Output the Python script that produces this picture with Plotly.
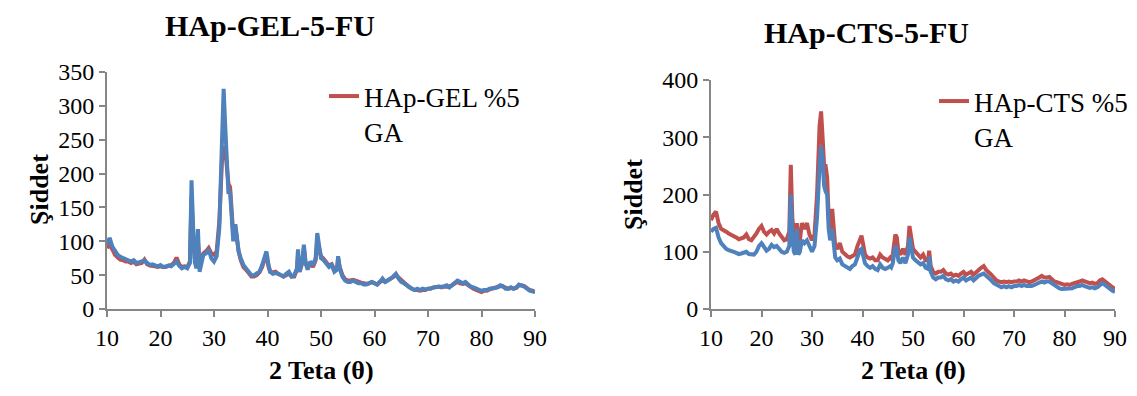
import plotly.graph_objects as go

# 2-theta grid (degrees)
X = [10, 10.5, 11, 11.5, 12, 12.5, 13, 13.5, 14, 14.5,
     15, 15.5, 16, 16.5, 17, 17.5, 18, 18.5, 19, 19.5,
     20, 20.5, 21, 21.5, 22, 22.5, 23, 23.5, 24, 24.5,
     25, 25.5, 25.8, 26.1, 26.4, 26.7, 27.0, 27.3, 27.6, 28,
     28.5, 29, 29.5, 30, 30.5, 31, 31.5, 31.8, 32.1, 32.4,
     32.7, 33.0, 33.3, 33.6, 34, 34.3, 34.6, 35, 35.5, 36,
     36.5, 37, 37.5, 38, 38.5, 39, 39.5, 39.8, 40.2, 40.5,
     41, 41.5, 42, 42.5, 43, 43.5, 44, 44.5, 45, 45.5,
     45.7, 46, 46.5, 46.8, 47.1, 47.5, 48, 48.5, 49, 49.3,
     49.6, 50, 50.5, 51, 51.5, 52, 52.5, 53, 53.2, 53.5,
     54, 54.5, 55, 55.5, 56, 56.5, 57, 57.5, 58, 58.5,
     59, 59.5, 60, 60.5, 61, 61.5, 62, 62.5, 63, 63.5,
     64, 64.5, 65, 65.5, 66, 66.5, 67, 67.5, 68, 68.5,
     69, 69.5, 70, 70.5, 71, 71.5, 72, 72.5, 73, 73.5,
     74, 74.5, 75, 75.5, 76, 76.5, 77, 77.5, 78, 78.5,
     79, 79.5, 80, 80.5, 81, 81.5, 82, 82.5, 83, 83.5,
     84, 84.5, 85, 85.5, 86, 86.5, 87, 87.5, 88, 88.5,
     89, 89.5, 90]

# Left chart: HAp-GEL %5 GA (red) and second pattern (blue)
gel_red = [90, 95, 88, 80, 76, 73, 72, 70, 70, 68,
           70, 66, 67, 68, 73, 66, 64, 64, 63, 62,
           63, 62, 62, 64, 65, 68, 76, 66, 62, 63,
           62, 70, 165, 110, 75, 65, 100, 60, 70, 82,
           85, 90, 82, 80, 85, 130, 220, 240, 235, 200,
           185, 180, 140, 110, 120, 100, 85, 72, 62, 58,
           52, 48, 48, 50, 54, 62, 75, 78, 62, 55,
           54, 55, 52, 50, 48, 50, 52, 48, 48, 58,
           80, 55, 68, 90, 68, 60, 68, 62, 72, 100,
           90, 78, 74, 70, 64, 66, 58, 60, 75, 62,
           50, 44, 42, 42, 43, 42, 40, 39, 38, 37,
           38, 40, 38, 36, 40, 42, 40, 42, 44, 47,
           50, 46, 42, 38, 35, 32, 30, 28, 28, 27,
           28, 28, 30, 30, 32, 33, 33, 33, 33, 34,
           33, 35, 37, 40, 38, 37, 38, 35, 32, 30,
           28, 26, 25, 27, 27, 29, 30, 31, 32, 34,
           33, 31, 30, 31, 30, 31, 35, 35, 34, 31,
           28, 27, 25]

gel_blue = [95, 105, 92, 85, 80, 77, 75, 73, 72, 70,
            72, 68, 69, 70, 72, 68, 65, 66, 64, 63,
            65, 62, 63, 64, 63, 66, 70, 64, 60, 62,
            60, 68, 190, 120, 70, 60, 118, 55, 65, 80,
            82, 88, 75, 70, 78, 120, 250, 325, 270, 215,
            170, 175, 130, 100, 125, 100, 85, 75, 65, 60,
            55, 50, 50, 52, 55, 65, 80, 85, 65, 55,
            52, 53, 52, 50, 48, 52, 55, 48, 50, 60,
            88, 55, 70, 95, 70, 58, 70, 65, 75, 112,
            95, 75, 72, 68, 62, 65, 55, 58, 78, 60,
            48, 42, 40, 40, 42, 40, 38, 38, 36, 36,
            38, 40, 38, 36, 40, 45, 40, 42, 45, 48,
            52, 45, 40, 38, 35, 32, 30, 28, 30, 28,
            30, 29, 30, 30, 32, 32, 33, 32, 33, 35,
            32, 35, 38, 42, 40, 38, 40, 36, 33, 32,
            30, 28, 27, 28, 28, 30, 30, 31, 32, 35,
            34, 30, 30, 32, 30, 32, 36, 35, 33, 30,
            27, 26, 25]

# Right chart: HAp-CTS %5 GA (red) and second pattern (blue)
cts_red = [155, 165, 170, 150, 140, 138, 135, 132, 130, 128,
           125, 122, 123, 125, 130, 122, 120, 125, 132, 140,
           145, 135, 130, 135, 138, 132, 140, 132, 125, 120,
           122, 135, 252, 160, 130, 120, 150, 115, 120, 150,
           140, 150, 130, 120, 130, 200, 320, 345, 300, 250,
           250, 230, 160, 140, 175, 130, 110, 105, 115, 100,
           95, 92, 90, 92, 95, 110, 125, 128, 110, 95,
           90, 88, 90, 85, 85, 95, 90, 88, 85, 90,
           88, 95, 130, 125, 100, 95, 105, 95, 110, 145,
           130, 105, 100, 95, 90, 95, 85, 85, 102, 75,
           65, 62, 65, 65, 68, 62, 60, 62, 58, 60,
           58, 62, 65, 60, 62, 65, 60, 65, 68, 72,
           75, 68, 65, 60, 55, 50, 48, 47, 48, 47,
           48, 47, 48, 48, 50, 48, 50, 48, 47, 48,
           50, 52, 55, 58, 55, 55, 56, 52, 48, 47,
           45, 43, 42, 43, 42, 44, 45, 47, 48, 50,
           48, 46, 45, 46, 44, 45, 50, 52, 48, 45,
           42, 38, 35]

cts_blue = [135, 140, 142, 125, 115, 110, 105, 103, 102, 100,
            98, 96, 97, 98, 100, 96, 95, 95, 100, 110,
            115, 108, 102, 105, 112, 108, 110, 105, 100, 98,
            100, 110, 200, 130, 100, 95, 140, 95, 100, 120,
            115, 120, 110, 100, 110, 160, 250, 285, 260, 215,
            205, 200, 140, 120, 140, 110, 90, 85, 88, 78,
            75, 72, 70, 75, 78, 90, 103, 105, 92, 80,
            75, 72, 75, 70, 68, 78, 72, 70, 72, 75,
            73, 80, 110, 105, 85, 80, 90, 80, 95, 125,
            110, 90, 85, 82, 78, 80, 72, 70, 92, 65,
            55, 52, 55, 55, 58, 52, 50, 52, 48, 50,
            48, 52, 55, 50, 52, 55, 50, 55, 58, 60,
            62, 58, 55, 50, 45, 42, 40, 38, 40, 38,
            40, 38, 40, 40, 42, 40, 42, 40, 40, 40,
            42, 44, 45, 48, 46, 48, 48, 45, 40, 38,
            36, 35, 35, 36, 35, 36, 38, 40, 40, 42,
            40, 38, 37, 38, 36, 38, 42, 45, 42, 38,
            35, 32, 30]

x_ticks = [10, 20, 30, 40, 50, 60, 70, 80, 90]
gel_yticks = [0, 50, 100, 150, 200, 250, 300, 350]
cts_yticks = [0, 100, 200, 300, 400]

RED = "#C0504D"
BLUE = "#4F81BD"
FONT = "Liberation Serif"
LW = 4

# the page body has an 8px margin; size the figure to fit inside the window
OFF = 8
W, H = 1137 - 2 * OFF, 396 - 2 * OFF


def px(x):
    return (x - OFF) / W


def py(y):
    return 1 - (y - OFF) / H


fig = go.Figure()
fig.add_trace(go.Scatter(x=X, y=gel_red, mode="lines", name="HAp-GEL %5<br>GA",
                         line=dict(color=RED, width=LW), xaxis="x", yaxis="y",
                         legend="legend"))
fig.add_trace(go.Scatter(x=X, y=gel_blue, mode="lines", name="gel2", showlegend=False,
                         line=dict(color=BLUE, width=LW), xaxis="x", yaxis="y"))
fig.add_trace(go.Scatter(x=X, y=cts_red, mode="lines", name="HAp-CTS %5<br>GA",
                         line=dict(color=RED, width=LW), xaxis="x2", yaxis="y2",
                         legend="legend2"))
fig.add_trace(go.Scatter(x=X, y=cts_blue, mode="lines", name="cts2", showlegend=False,
                         line=dict(color=BLUE, width=LW), xaxis="x2", yaxis="y2"))

axis_common = dict(showline=True, linecolor="#868686", linewidth=2, ticks="outside",
                   tickcolor="#868686", ticklen=6, tickwidth=2, showgrid=False,
                   zeroline=False, automargin=False,
                   tickfont=dict(family=FONT, size=24, color="black"))

legend_common = dict(xanchor="left", yanchor="top", valign="top",
                     font=dict(family=FONT, size=27, color="black"),
                     bgcolor="rgba(0,0,0,0)", itemwidth=30, tracegroupgap=0)

fig.update_layout(
    width=W, height=H,
    margin=dict(l=0, r=0, t=0, b=0, autoexpand=False),
    paper_bgcolor="white", plot_bgcolor="white",
    xaxis=dict(domain=[px(107), px(535)], range=[10, 90], tickvals=x_ticks,
               anchor="y", **axis_common),
    yaxis=dict(domain=[py(309), py(72)], range=[0, 350], tickvals=gel_yticks,
               anchor="x", **axis_common),
    xaxis2=dict(domain=[px(711), px(1115)], range=[10, 90], tickvals=x_ticks,
                anchor="y2", **axis_common),
    yaxis2=dict(domain=[py(309), py(80)], range=[0, 400], tickvals=cts_yticks,
                anchor="x2", **axis_common),
    legend=dict(x=px(324), y=py(72), **legend_common),
    legend2=dict(x=px(934), y=py(77), **legend_common),
    showlegend=True,
)


def label(text, x, y, size, angle=0):
    return dict(text=text, x=px(x), y=py(y), xref="paper", yref="paper",
                xanchor="center", yanchor="middle", showarrow=False, textangle=angle,
                font=dict(family=FONT, size=size, color="black"))


fig.update_layout(annotations=[
    label("<b>HAp-GEL-5-FU</b>", 270, 25, 30),
    label("<b>HAp-CTS-5-FU</b>", 866, 33, 30),
    label("<b>Şiddet</b>", 40, 190, 26, -90),
    label("<b>Şiddet</b>", 633, 195, 26, -90),
    label("<b>2 Teta (θ)</b>", 321, 370, 26),
    label("<b>2 Teta (θ)</b>", 913, 370, 26),
])

fig.write_html("out.html")
